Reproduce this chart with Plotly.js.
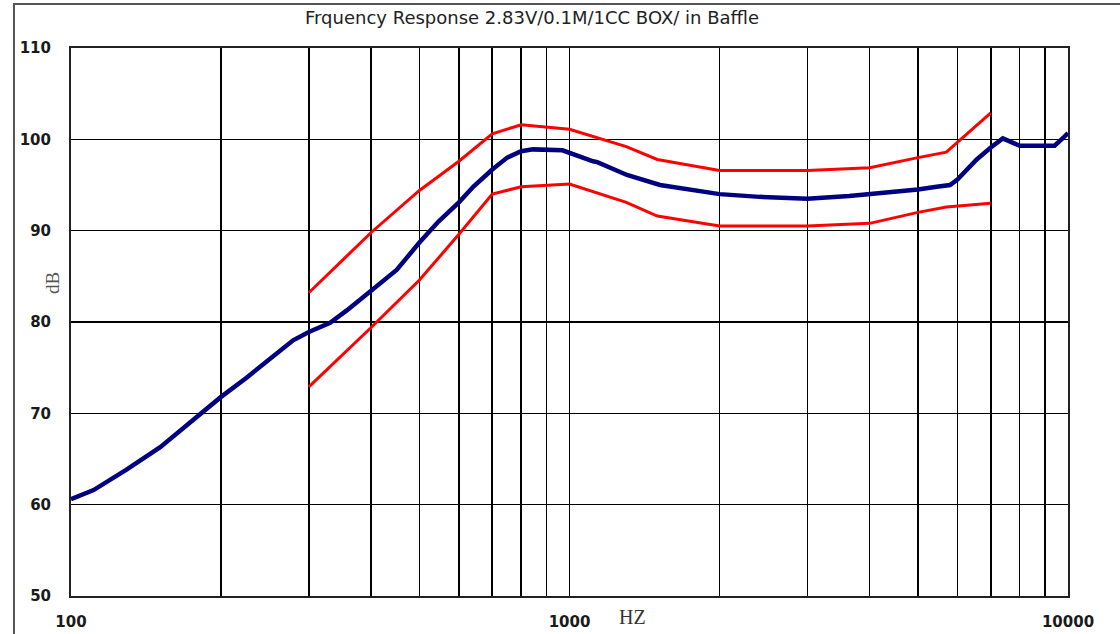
<!DOCTYPE html>
<html>
<head>
<meta charset="utf-8">
<script src="https://cdn.plot.ly/plotly-3.0.1.min.js"></script>
<style>html,body{margin:0;padding:0;background:#fff;}#chart{width:1120px;height:634px;}</style>
</head>
<body>
<div id="chart"></div>
<script>
// Measured response (blue)
const respFreq = [100, 111, 129, 151, 176, 200, 225, 259, 279, 300, 316, 331, 358, 400, 450, 500, 546, 600, 641, 700, 750, 800, 845, 968, 1000, 1115, 1137, 1304, 1519, 1770, 2000, 2405, 3000, 3640, 4000, 4585, 5000, 5450, 5800, 6000, 6260, 6560, 7000, 7400, 8000, 9000, 9400, 9800, 10000];
const respDb   = [60.6, 61.6, 63.8, 66.3, 69.3, 71.8, 73.9, 76.6, 78.0, 78.9, 79.4, 79.9, 81.3, 83.5, 85.7, 88.7, 91.0, 93.1, 94.8, 96.7, 98.0, 98.7, 98.9, 98.8, 98.5, 97.6, 97.5, 96.1, 95.0, 94.4, 94.0, 93.7, 93.5, 93.8, 94.0, 94.3, 94.5, 94.8, 95.0, 95.6, 96.7, 97.8, 99.1, 100.1, 99.3, 99.3, 99.3, 100.2, 100.7];

// Upper tolerance limit (red)
const upperFreq = [300, 400, 500, 600, 700, 800, 1000, 1300, 1500, 2000, 3000, 4000, 5000, 5700, 7000];
const upperDb   = [83.2, 89.8, 94.4, 97.6, 100.6, 101.6, 101.1, 99.2, 97.8, 96.6, 96.6, 96.9, 98.0, 98.6, 102.9];

// Lower tolerance limit (red)
const lowerFreq = [300, 400, 500, 600, 700, 800, 1000, 1300, 1500, 2000, 3000, 4000, 5000, 5700, 7000];
const lowerDb   = [72.9, 79.4, 84.6, 89.6, 94.0, 94.8, 95.1, 93.1, 91.6, 90.5, 90.5, 90.8, 92.0, 92.6, 93.0];

// Axis ticks / grid
const xGridVals = [100,200,300,400,500,600,700,800,900,1000,2000,3000,4000,5000,6000,7000,8000,9000,10000];
const xTickText = ['100','','','','','','','','','1000','','','','','','','','','10000'];
const yTickVals = [50,60,70,80,90,100,110];

const titleText = 'Frquency Response 2.83V/0.1M/1CC BOX/ in Baffle';
const xLabel = 'HZ';
const yLabel = 'dB';

const tickFont = {size: 15, family: 'DejaVu Sans, Verdana, sans-serif', color: '#1a1a1a', weight: 'bold'};

const traces = [
  {x: upperFreq, y: upperDb, type: 'scatter', mode: 'lines', line: {color: '#ff0000', width: 3}, hoverinfo: 'skip'},
  {x: lowerFreq, y: lowerDb, type: 'scatter', mode: 'lines', line: {color: '#ff0000', width: 3}, hoverinfo: 'skip'},
  {x: respFreq, y: respDb, type: 'scatter', mode: 'lines', line: {color: '#000080', width: 4.5}, hoverinfo: 'skip'}
];

const layout = {
  width: 1120, height: 634,
  margin: {l: 71, r: 52, t: 48, b: 38},
  paper_bgcolor: '#fff', plot_bgcolor: '#fff',
  showlegend: false,
  font: {family: 'DejaVu Sans, Verdana, sans-serif', color: '#111'},
  title: {text: titleText, font: {size: 18, family: 'DejaVu Sans, Verdana, sans-serif', color: '#222'},
          xref: 'container', x: 0.475, xanchor: 'center', yref: 'container', y: 0.972, yanchor: 'middle'},
  xaxis: {
    type: 'log', range: [2, 4], tickvals: xGridVals, ticktext: xTickText,
    showgrid: true, gridcolor: '#000', gridwidth: 1.6,
    showline: true, linecolor: '#222', linewidth: 2, mirror: true,
    ticks: 'outside', ticklen: 11, tickcolor: 'rgba(0,0,0,0)',
    tickfont: tickFont,
    zeroline: false, fixedrange: true
  },
  yaxis: {
    range: [50, 110], tickvals: yTickVals,
    showgrid: true, gridcolor: '#000', gridwidth: 1.6,
    showline: true, linecolor: '#222', linewidth: 2, mirror: true,
    ticks: 'outside', ticklen: 15, tickcolor: 'rgba(0,0,0,0)',
    tickfont: tickFont,
    zeroline: false, fixedrange: true
  },
  shapes: [
    {type: 'rect', xref: 'paper', yref: 'paper', x0: -0.0572, x1: 1.2, y0: -0.3, y1: 1.0803,
     line: {color: '#555', width: 2}, fillcolor: 'rgba(0,0,0,0)', layer: 'below'}
  ],
  annotations: [
    {text: xLabel, xref: 'paper', yref: 'paper', x: (632-71)/997, y: -(617-596)/548, xanchor: 'center', yanchor: 'middle',
     showarrow: false, font: {family: 'Liberation Serif, DejaVu Serif, serif', size: 20, color: '#333'}},
    {text: yLabel, xref: 'paper', yref: 'paper', x: -(71-52)/997, y: (596-283)/548, xanchor: 'center', yanchor: 'middle',
     textangle: -90, showarrow: false, font: {family: 'Liberation Serif, DejaVu Serif, serif', size: 19, color: '#555'}}
  ]
};

Plotly.newPlot('chart', traces, layout, {staticPlot: true, displayModeBar: false});
</script>
</body>
</html>
